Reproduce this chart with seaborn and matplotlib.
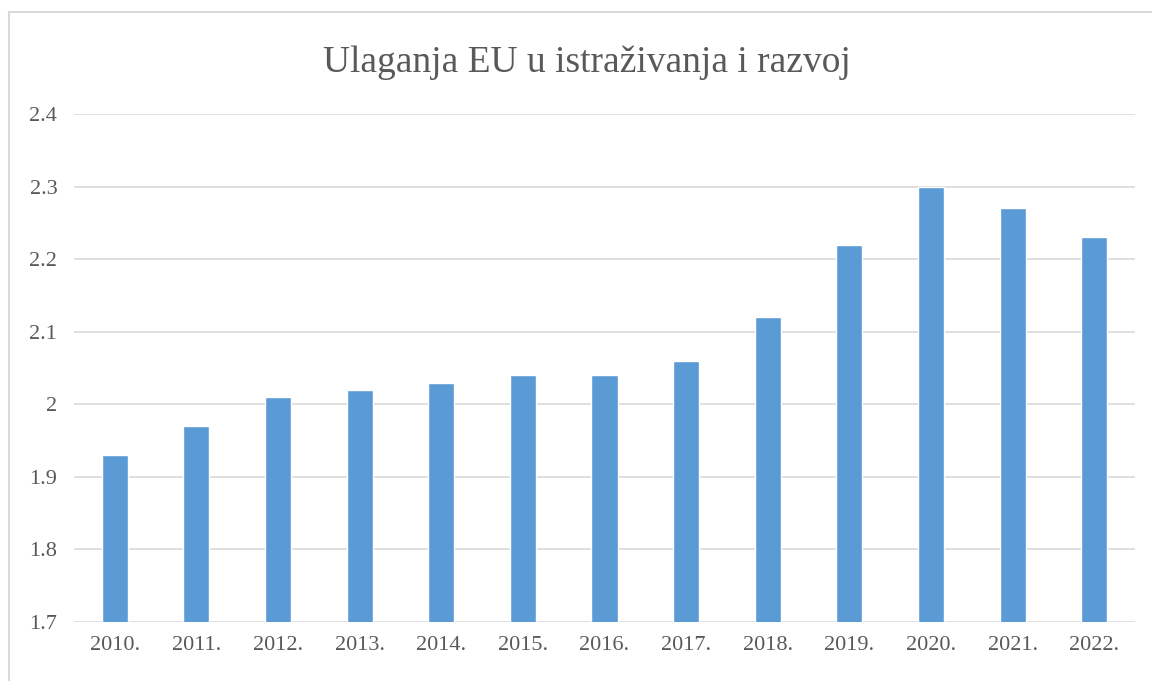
import pandas as pd
import seaborn as sns
from matplotlib import pyplot as plt
from matplotlib.patches import Rectangle

years = ['2010.', '2011.', '2012.', '2013.', '2014.', '2015.', '2016.',
         '2017.', '2018.', '2019.', '2020.', '2021.', '2022.']
ulaganja = [1.93, 1.97, 2.01, 2.02, 2.03, 2.04, 2.04, 2.06, 2.12, 2.22, 2.30, 2.27, 2.23]
y_ticks = [1.7, 1.8, 1.9, 2.0, 2.1, 2.2, 2.3, 2.4]

df = pd.DataFrame({'godina': years, 'vrijednost': ulaganja})

sns.set_style('white')
plt.rcParams['font.family'] = ['Liberation Serif', 'DejaVu Serif']

fig = plt.figure(figsize=(11.52, 6.81), dpi=100)
ax = fig.add_axes([0.0642, 0.0866, 0.9211, 0.746])

# grid first so bars sit on top
for t in y_ticks:
    ax.axhline(t, color='#D9D9D9', lw=1.2, zorder=0)

sns.barplot(data=df, x='godina', y='vrijednost', color='#5B9BD5',
            saturation=1, width=0.32, ax=ax, zorder=2)

ax.set_ylim(1.7, 2.4)
ax.set_yticks(y_ticks)
ax.set_yticklabels([f'{t:g}' for t in y_ticks])
ax.set_xlabel('')
ax.set_ylabel('')
ax.tick_params(axis='both', length=0, labelsize=16, colors='#595959')
ax.tick_params(axis='y', pad=12)
ax.tick_params(axis='x', pad=10)
for s in ax.spines.values():
    s.set_visible(False)

fig.text(0.5095, 0.908, 'Ulaganja EU u istraživanja i razvoj', ha='center', va='center',
         fontsize=27, color='#595959')

# chart-area border (cut off on right/bottom like the screenshot)
fig.patches.append(Rectangle((9 / 1152, -0.1), 1.2, 1 - 12 / 681 + 0.1,
                             transform=fig.transFigure, fill=False,
                             edgecolor='#D9D9D9', lw=1.5))

fig.savefig('out.png', dpi=100)
